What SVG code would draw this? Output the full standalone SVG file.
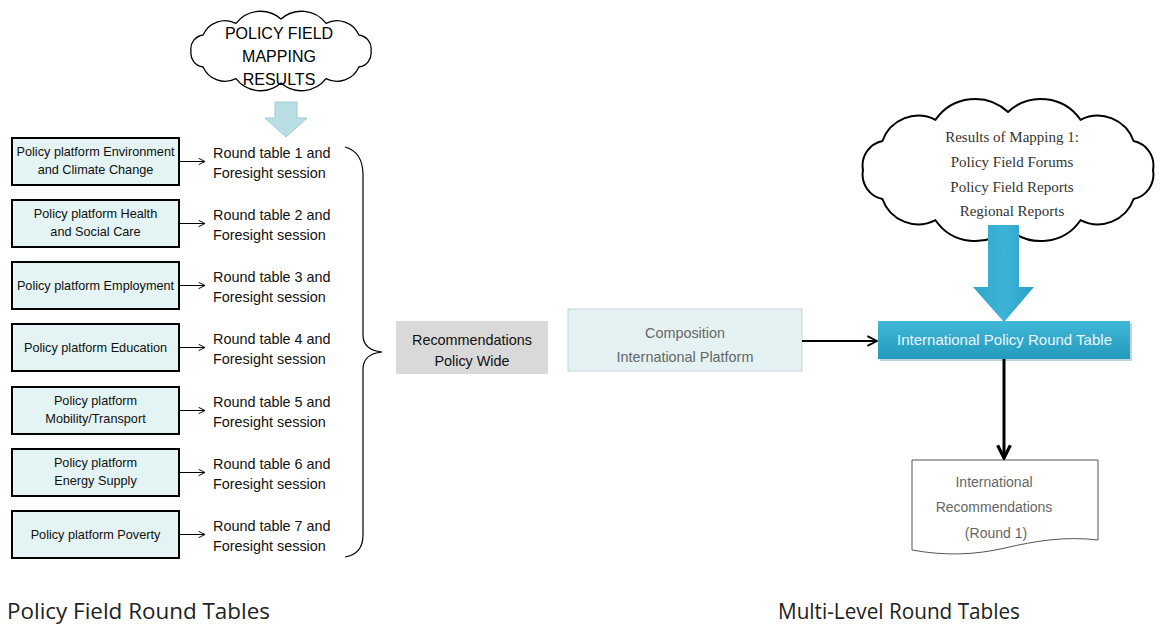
<svg xmlns="http://www.w3.org/2000/svg" width="1160" height="624" viewBox="0 0 1160 624">
<defs>
<style>
.sans{font-family:"Liberation Sans",Arial,sans-serif;}
.box{fill:#e4f3f3;stroke:#000;stroke-width:2;}
.bt{font-size:12.7px;fill:#111;text-anchor:middle;}
.rt{font-size:14.4px;fill:#111;}
.con{stroke:#000;stroke-width:1;fill:none;}
.cap{font-family:"Open Sans","Noto Sans",sans-serif;font-size:21px;fill:#222;}
</style>
<marker id="ah" viewBox="0 0 10 10" refX="9" refY="5" markerWidth="8" markerHeight="8" markerUnits="userSpaceOnUse" orient="auto">
<path d="M1,1 L9,5 L1,9" fill="none" stroke="#000" stroke-width="1.2"/>
</marker>
<marker id="ah2" viewBox="0 0 10 10" refX="9" refY="5" markerWidth="12" markerHeight="12" markerUnits="userSpaceOnUse" orient="auto">
<path d="M1,1 L9,5 L1,9" fill="none" stroke="#000" stroke-width="1.6"/>
</marker>
<marker id="ah3" viewBox="0 0 10 10" refX="9" refY="5" markerWidth="16" markerHeight="16" markerUnits="userSpaceOnUse" orient="auto">
<path d="M1,1 L9,5 L1,9" fill="none" stroke="#000" stroke-width="2"/>
</marker>
<linearGradient id="blue" x1="0" y1="0" x2="0" y2="1">
<stop offset="0" stop-color="#41b8d8"/>
<stop offset="1" stop-color="#2399bd"/>
</linearGradient>
<linearGradient id="blueA" x1="0" y1="0" x2="1" y2="0">
<stop offset="0" stop-color="#2ea6cb"/>
<stop offset="0.5" stop-color="#3db4d7"/>
<stop offset="1" stop-color="#2a9fc4"/>
</linearGradient>
</defs>
<rect width="1160" height="624" fill="#fff"/>

<g id="cloud-left">
<path d="M371,51 A14,14 0 0 1 358.9,67 A24,24 0 0 1 326,78.7 A31,31 0 0 1 281,83 A31,31 0 0 1 236,78.7 A24,24 0 0 1 203.1,67 A14,14 0 0 1 191,51 A14,14 0 0 1 203.1,35 A24,24 0 0 1 236,23.3 A31,31 0 0 1 281,19 A31,31 0 0 1 326,23.3 A24,24 0 0 1 358.9,35 A14,14 0 0 1 371,51 Z" fill="#fff" stroke="#000" stroke-width="1.3"/>
<text class="sans" font-size="16" fill="#000" text-anchor="middle"><tspan x="279" y="39">POLICY FIELD</tspan><tspan x="279" y="62">MAPPING</tspan><tspan x="279" y="85">RESULTS</tspan></text>
</g>

<g id="arrow-left">
<path d="M275,102 H297 V118 H307 L286,137 L265,118 H275 Z" fill="#b9dfe5" stroke="#9ccbd3" stroke-width="1"/>
</g>

<g id="p1"><rect class="box" x="12" y="138" width="167" height="47"/><text class="sans bt"><tspan x="95.5" y="156">Policy platform Environment</tspan><tspan x="95.5" y="174">and Climate Change</tspan></text></g>
<g id="p2"><rect class="box" x="12" y="200" width="167" height="47"/><text class="sans bt"><tspan x="95.5" y="218">Policy platform Health</tspan><tspan x="95.5" y="236">and Social Care</tspan></text></g>
<g id="p3"><rect class="box" x="12" y="262" width="167" height="47"/><text class="sans bt" x="95.5" y="290">Policy platform Employment</text></g>
<g id="p4"><rect class="box" x="12" y="324" width="167" height="47"/><text class="sans bt" x="95.5" y="352">Policy platform Education</text></g>
<g id="p5"><rect class="box" x="12" y="387" width="167" height="47"/><text class="sans bt"><tspan x="95.5" y="405">Policy platform</tspan><tspan x="95.5" y="423">Mobility/Transport</tspan></text></g>
<g id="p6"><rect class="box" x="12" y="449" width="167" height="47"/><text class="sans bt"><tspan x="95.5" y="467">Policy platform</tspan><tspan x="95.5" y="485">Energy Supply</tspan></text></g>
<g id="p7"><rect class="box" x="12" y="511" width="167" height="47"/><text class="sans bt" x="95.5" y="539">Policy platform Poverty</text></g>

<g id="r1"><text class="sans rt"><tspan x="213" y="158">Round table 1 and</tspan><tspan x="213" y="178">Foresight session</tspan></text></g>
<g id="r2"><text class="sans rt"><tspan x="213" y="220">Round table 2 and</tspan><tspan x="213" y="240">Foresight session</tspan></text></g>
<g id="r3"><text class="sans rt"><tspan x="213" y="282">Round table 3 and</tspan><tspan x="213" y="302">Foresight session</tspan></text></g>
<g id="r4"><text class="sans rt"><tspan x="213" y="344">Round table 4 and</tspan><tspan x="213" y="364">Foresight session</tspan></text></g>
<g id="r5"><text class="sans rt"><tspan x="213" y="407">Round table 5 and</tspan><tspan x="213" y="427">Foresight session</tspan></text></g>
<g id="r6"><text class="sans rt"><tspan x="213" y="469">Round table 6 and</tspan><tspan x="213" y="489">Foresight session</tspan></text></g>
<g id="r7"><text class="sans rt"><tspan x="213" y="531">Round table 7 and</tspan><tspan x="213" y="551">Foresight session</tspan></text></g>

<g id="brace">
<path d="M345,147 Q363,152 363,175 V335 Q363,350 382,352 Q363,354 363,369 V535 Q363,554 345,557" fill="none" stroke="#000" stroke-width="1.2"/>
</g>

<g id="recommendations">
<rect x="396" y="321" width="152" height="53" fill="#d9d9d9"/>
<text class="sans" font-size="14.4" fill="#111" text-anchor="middle"><tspan x="472" y="345">Recommendations</tspan><tspan x="472" y="366">Policy Wide</tspan></text>
</g>

<g id="composition">
<rect x="568" y="309" width="234" height="62" fill="#e4f2f3" stroke="#c8d4d4" stroke-width="1"/>
<text class="sans" font-size="14.4" fill="#666" text-anchor="middle"><tspan x="685" y="338">Composition</tspan><tspan x="685" y="362">International Platform</tspan></text>
</g>

<g id="cloud-right">
<path d="M1153,170 A25,25 0 0 1 1133.6,199 A38,38 0 0 1 1080.5,220.2 A48,48 0 0 1 1008,228 A48,48 0 0 1 935.5,220.2 A38,38 0 0 1 882.4,199 A25,25 0 0 1 863,170 A25,25 0 0 1 882.4,141 A38,38 0 0 1 935.5,119.8 A48,48 0 0 1 1008,112 A48,48 0 0 1 1080.5,119.8 A38,38 0 0 1 1133.6,141 A25,25 0 0 1 1153,170 Z" fill="#fff" stroke="#000" stroke-width="2"/>
<text font-family="'Liberation Serif','Times New Roman',serif" font-size="15" fill="#333" text-anchor="middle"><tspan x="1012" y="142">Results of Mapping 1:</tspan><tspan x="1012" y="167">Policy Field Forums</tspan><tspan x="1012" y="192">Policy Field Reports</tspan><tspan x="1012" y="216">Regional Reports</tspan></text>
</g>

<g id="big-arrow">
<path d="M988,225 H1019 V287 H1034 L1004,322 L973,287 H988 Z" fill="url(#blueA)"/>
</g>

<g id="round-table">
<rect x="880" y="323" width="252" height="38" fill="#7fa9b8" opacity="0.5"/>
<rect x="878" y="321" width="252" height="38" fill="url(#blue)"/>
<text class="sans" font-size="14" fill="#eaf7fb" text-anchor="middle" x="1004.5" y="345" textLength="215" lengthAdjust="spacingAndGlyphs">International  Policy Round Table</text>
</g>

<g id="document">
<path d="M912,460 H1098 V540 C1065,536 1035,541 1005,548 C975,555 945,556 912,550 Z" fill="#fff" stroke="#555" stroke-width="1"/>
<text class="sans" font-size="14" fill="#666" text-anchor="middle"><tspan x="994" y="487">International</tspan><tspan x="994" y="512">Recommendations</tspan><tspan x="996" y="538">(Round 1)</tspan></text>
</g>

<g id="connectors">
<line class="con" x1="179" y1="161.5" x2="205" y2="161.5" marker-end="url(#ah)"/>
<line class="con" x1="179" y1="223.5" x2="205" y2="223.5" marker-end="url(#ah)"/>
<line class="con" x1="179" y1="285.5" x2="205" y2="285.5" marker-end="url(#ah)"/>
<line class="con" x1="179" y1="347.5" x2="205" y2="347.5" marker-end="url(#ah)"/>
<line class="con" x1="179" y1="410.5" x2="205" y2="410.5" marker-end="url(#ah)"/>
<line class="con" x1="179" y1="472.5" x2="205" y2="472.5" marker-end="url(#ah)"/>
<line class="con" x1="179" y1="534.5" x2="205" y2="534.5" marker-end="url(#ah)"/>
<line x1="802" y1="341" x2="877" y2="341" stroke="#000" stroke-width="1.8" marker-end="url(#ah2)"/>
<line x1="1004" y1="359" x2="1004" y2="458" stroke="#000" stroke-width="3" marker-end="url(#ah3)"/>
</g>

<g id="captions">
<text class="cap" x="7" y="619" textLength="263" lengthAdjust="spacingAndGlyphs">Policy Field Round Tables</text>
<text class="cap" x="778" y="619" textLength="242" lengthAdjust="spacingAndGlyphs">Multi-Level Round Tables</text>
</g>
</svg>
